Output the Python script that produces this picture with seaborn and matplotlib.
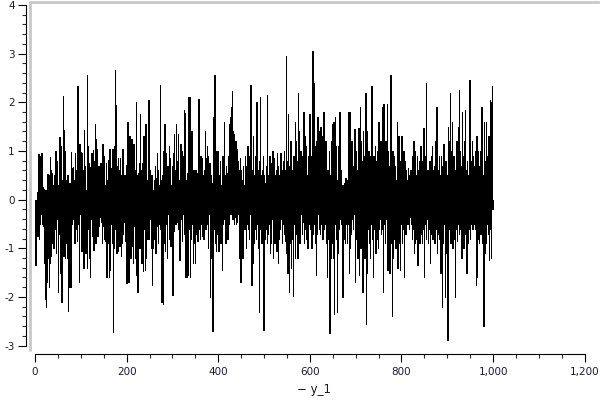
import numpy as np
import pandas as pd
import matplotlib
matplotlib.use("Agg")
import matplotlib.pyplot as plt
from matplotlib.ticker import MultipleLocator, FuncFormatter
import seaborn as sns

# values of y_1 in blocks of 100 points
block_0 = [0.0, -1.35, -0.45, -0.3, 0.15, -0.75, 0.92, -0.55, 0.94, -0.8,
           0.9, -0.5, 0.65, -0.3, 0.95, -0.5, 0.25, -0.55, 0.2, -0.45,
           0.22, -1.3, -2.05, 0.2, -2.2, 0.1, -1.7, 0.52, -1.2, 0.45,
           -1.8, 0.5, -1.3, 0.88, -1.15, 0.6, -0.05, 0.55, -0.9, 0.3,
           -1.0, 0.1, -0.85, 0.5, -0.6, 1.0, -1.1, 0.8, -0.4, 0.25,
           -1.9, 0.3, -0.7, 1.28, -1.5, 0.95, -0.65, 1.1, -2.1, 0.4,
           -1.15, 2.12, -0.2, 1.42, -1.15, 1.0, -1.2, 0.4, -0.9, 0.2,
           -1.2, 0.5, -2.28, 0.3, -1.8, 0.35, -0.55, 0.15, -1.8, 0.98,
           -0.5, 0.65, -0.4, 0.68, -0.3, 0.4, -0.9, 0.95, -0.6, 0.35,
           -0.55, 0.6, -0.85, 2.33, -0.5, 0.4, -1.7, 1.15, -0.3, 0.98]
block_1 = [-0.8, 0.45, -1.05, 0.95, -0.4, 0.6, -1.4, 1.42, -0.35, 0.7,
           -1.1, 0.2, -0.65, 2.57, -1.4, 1.1, -0.6, 0.75, -1.2, 0.68,
           -1.6, 0.3, -0.4, 0.96, -0.75, 0.5, -0.3, 1.02, -1.03, 0.8,
           -0.45, 1.55, -0.9, 1.25, -0.6, 1.05, -0.75, 0.5, -0.2, 0.7,
           -0.55, 0.2, -0.35, 0.75, -0.45, 0.6, -0.9, 1.15, -0.4, 0.8,
           -0.55, 0.9, -0.8, 0.3, -0.85, 0.75, -1.6, 0.4, -0.9, 0.82,
           -0.3, 0.5, -1.6, 1.05, -1.45, 0.6, -0.5, 0.65, -0.9, 1.05,
           -2.73, 0.65, -1.0, 1.1, -0.6, 2.67, -0.5, 1.95, -1.1, 0.7,
           -1.05, 0.85, -0.55, 0.6, -0.95, 0.85, -0.65, 0.3, -1.15, 0.5,
           -0.9, 1.05, -0.7, 0.3, -0.45, 0.5, -0.85, 0.45, -0.7, 0.72]
block_2 = [-1.72, 0.6, 1.6, -0.3, -1.7, 0.4, 1.3, -0.65, -1.2, 0.9,
           -0.4, 1.25, -0.95, 0.7, -1.3, 1.15, -0.55, 0.3, -1.2, 0.6,
           -0.9, 2.0, -1.55, 0.5, -1.9, 0.55, -0.4, 0.75, -1.0, 1.75,
           -0.9, 0.6, -1.3, 0.5, -0.4, 0.75, -1.47, 1.3, -0.6, 0.55,
           -1.45, 1.55, -1.2, 0.2, -0.6, 0.4, -0.8, 1.2, 2.05, -0.8,
           0.6, -0.4, 0.5, -1.0, 0.3, -1.75, 0.5, -1.0, 0.2, -0.6,
           0.4, -0.8, 0.7, -1.1, 0.45, -0.3, 0.95, -0.55, 0.6, -0.9,
           0.3, -0.5, 0.2, 2.35, -0.6, 0.4, -2.1, 0.5, -0.7, -2.15,
           1.0, -0.9, 0.55, 1.55, -1.05, 0.95, -0.5, 0.3, -1.2, 0.7,
           -0.3, 0.4, -0.8, 1.1, -0.6, 0.85, -0.95, 0.3, -0.5, -1.95]
block_3 = [0.7, -1.95, 0.95, -0.65, 1.35, -0.3, 0.6, -0.5, 1.55, -0.45,
           0.8, -0.35, 1.35, -0.6, 0.4, -1.25, 0.5, -0.85, 1.15, -0.4,
           1.0, -0.85, 0.6, -0.3, 0.9, 1.85, -0.7, 0.5, 1.78, -1.58,
           0.4, -1.6, 0.55, -1.55, 2.1, -0.6, 0.3, 2.1, -1.6, 0.5,
           -0.8, 0.6, 1.4, -0.5, 0.35, -1.3, 0.6, -0.9, 0.45, -1.3,
           0.6, -0.7, 0.3, -0.5, 0.55, -0.85, 0.4, 2.07, -0.6, 0.35,
           -0.8, 0.9, -0.5, 0.7, -0.75, 0.85, -0.3, 0.5, -0.8, 0.6,
           -0.4, 1.4, -0.6, 0.85, -0.35, 1.1, -0.5, 0.9, -1.0, 0.6,
           -0.3, 0.75, -2.0, 0.5, -1.2, 0.35, -0.8, -2.7, 0.4, 1.7,
           -0.6, 1.0, 2.55, -0.9, 1.0, -1.05, 0.6, -0.7, 1.0, -0.5]
block_4 = [0.9, -1.05, 0.5, -0.4, 0.8, -0.9, 0.3, -0.6, -1.45, 0.9,
           -0.5, 0.6, -0.3, 1.6, -0.4, 0.5, -0.9, 0.7, -0.6, 0.55,
           -0.8, 0.9, -0.5, 0.4, 1.55, -0.1, 1.7, -0.3, 1.9, -0.2,
           2.24, -0.4, 1.4, -0.3, 1.35, -0.5, 0.9, -0.35, 1.2, -0.5,
           1.05, -0.45, 0.8, -0.3, 0.6, -1.2, 0.5, -0.8, 0.85, -1.7,
           0.6, -0.9, 0.4, -1.2, 0.7, -0.5, 0.3, -0.6, 0.9, -0.45,
           0.5, -1.0, 0.7, -0.5, 1.1, -0.6, 0.4, -0.8, 0.9, -0.3,
           2.36, -0.7, 1.3, -1.75, 0.6, -1.3, 1.3, -0.9, 0.5, -0.4,
           0.9, -0.6, 0.7, -0.8, 2.0, -0.5, 0.6, -1.0, 0.4, -2.3,
           0.8, 2.1, -0.6, 0.5, -0.9, 0.3, -0.5, 0.6, 0.9, -2.67]
block_5 = [0.5, -0.8, 0.35, -0.6, 0.7, -0.4, 2.14, -0.9, 0.5, -0.7,
           0.4, -0.5, 0.9, -1.1, 0.6, -0.9, 0.75, -0.4, 1.0, -1.2,
           0.7, -0.6, 0.85, -0.9, 0.5, -0.3, 0.6, -1.05, 0.95, -0.5,
           0.7, -1.3, 0.5, -0.8, 0.4, -0.6, 0.95, -0.4, 0.6, -0.9,
           0.3, -0.5, 0.8, -0.7, 1.0, -0.4, 0.6, -0.85, 2.96, -1.1,
           0.8, -1.5, 1.75, -1.2, 0.5, -1.9, 0.7, -0.9, 1.2, -1.4,
           0.6, -0.8, 0.4, -1.98, 0.9, -0.5, 0.3, -1.2, 1.6, -0.7,
           1.2, -0.4, 0.8, -1.2, 2.2, -0.6, 1.4, -0.9, 0.7, -0.5,
           1.0, -0.3, 0.6, -0.7, 0.9, -0.45, 1.8, -0.9, 1.3, -0.6,
           0.8, -0.4, 1.1, -0.8, 0.5, -1.0, 0.9, -0.5, 0.6, 1.75]
block_6 = [-0.6, 0.9, -0.4, 0.5, -1.0, 1.2, 3.05, -0.7, 2.4, -0.5,
           1.1, -0.9, 0.6, -0.4, -1.55, 1.2, -0.7, 1.7, -0.3, 1.4,
           -0.6, 0.8, -0.7, 1.5, -0.5, 0.9, -0.35, 1.3, -0.8, 0.7,
           1.8, -0.6, 0.9, -0.5, 1.2, -0.9, 0.6, -1.6, 0.4, -0.8,
           0.6, -0.5, 1.0, -2.75, 0.5, -1.2, 1.2, -0.6, 1.55, -0.9,
           0.5, -1.2, 1.6, -2.35, 1.0, 1.7, -0.5, 1.1, -0.8, -2.3,
           0.4, -1.1, 1.1, -0.6, 1.8, -0.4, 1.8, -0.3, 0.6, -0.5,
           0.3, -2.0, 0.3, -0.8, 0.2, -0.6, 0.35, -0.9, 0.45, -0.5,
           0.3, -0.9, 0.4, -0.5, 1.8, -1.5, 0.8, 1.8, -1.0, 0.6,
           -0.7, 1.2, -0.4, 0.5, -0.6, 0.7, -0.3, 1.45, -1.7, 0.6]
block_7 = [-0.8, 1.0, -0.5, 0.6, -1.2, 0.9, 1.47, -1.55, 0.5, -0.9,
           1.9, -1.0, 1.2, -0.6, 0.8, -1.9, 1.4, -0.7, 0.9, -1.2,
           0.5, 2.2, -0.8, -2.55, 1.4, -1.5, 0.8, -0.6, 1.0, -0.9,
           0.6, -1.2, 0.9, -0.5, 0.7, 2.34, -0.8, 0.5, -1.6, 0.9,
           -0.6, 0.5, 1.1, -1.1, 0.8, -0.5, 1.0, -0.8, 0.6, -1.0,
           1.6, -0.6, 0.9, -0.4, 1.2, -0.7, 0.5, 1.9, -0.6, 1.3,
           -1.9, 1.97, -0.5, 0.8, -0.9, 1.2, -0.4, 0.6, 1.97, -1.45,
           1.0, -0.8, 0.7, -0.6, -1.5, 1.0, 2.56, -0.9, 0.5, -2.4,
           1.0, -1.2, 0.6, -0.8, 0.9, -0.5, 0.7, -1.0, 0.4, -0.6,
           1.6, -1.4, 1.0, -0.7, 1.3, -0.9, 0.8, -1.45, 0.6, -0.5]
block_8 = [1.3, -0.9, 0.7, -0.6, 1.0, -1.6, 0.5, -0.4, 0.8, -0.7,
           0.6, -0.3, 0.4, -0.5, 0.65, -0.4, 0.3, -0.6, 0.5, -0.35,
           0.6, -0.5, 0.4, -0.8, 0.9, -0.6, 1.2, -1.1, 0.7, -0.9,
           1.0, -0.6, 0.5, -0.8, 0.9, -1.35, 0.6, -0.5, 0.8, -0.9,
           0.6, -0.4, 1.1, -0.7, 0.5, -0.9, 0.8, -0.6, 1.47, -1.6,
           0.7, -0.5, 0.9, 2.4, -0.8, 0.6, -0.4, 0.3, -0.9, 0.6,
           -0.6, 0.8, -1.3, 0.5, -0.7, 0.9, -0.5, 1.1, -0.8, 0.6,
           -0.4, 0.7, -0.9, 1.2, -0.6, 0.5, 1.9, -1.1, 0.8, -0.7,
           0.6, -0.5, 0.9, -0.8, 0.5, -1.5, 0.9, -0.6, 0.4, -2.2,
           0.7, -0.9, 1.15, -0.5, 0.6, -2.0, 0.8, -1.1, 0.5, -0.6]
block_9 = [-2.88, 1.5, -1.1, 0.8, -0.6, 1.2, 2.2, -0.9, 1.0, -0.7,
           1.6, -1.0, 0.7, -0.5, 0.9, -0.8, 0.6, -2.0, 0.5, -0.6,
           1.2, -0.85, 0.8, -0.5, 1.5, -0.7, 2.25, -0.6, 1.0, -0.4,
           0.7, -1.2, 1.8, -0.8, 0.9, -1.0, 0.6, -0.5, 1.2, 1.85,
           -0.7, 0.6, -1.5, 0.8, -0.9, 0.5, -0.6, 0.7, 2.45, -0.8,
           0.6, -0.5, 0.8, -0.4, 1.2, -0.6, 0.9, -0.5, 0.7, -0.3,
           1.0, -0.6, 0.5, -1.75, 1.3, -1.6, 1.0, -0.8, 0.7, -0.9,
           0.6, -0.5, 1.0, -0.7, 0.8, 1.9, -0.9, 0.5, -0.6, -2.6,
           1.6, -1.1, 0.8, -0.6, 1.6, -0.9, 0.7, -0.5, 0.9, -0.7,
           1.3, -1.25, 0.8, 2.05, -0.6, 2.0, -1.2, 0.9, 2.34, -0.2]

y_1 = (block_0 + block_1 + block_2 + block_3 + block_4
       + block_5 + block_6 + block_7 + block_8 + block_9)
df = pd.DataFrame({"index": np.arange(len(y_1)), "y_1": y_1})

sns.set_style("white")
plt.rcParams["font.family"] = ["DejaVu Sans"]
plt.rcParams["axes.unicode_minus"] = False

fig = plt.figure(figsize=(6, 4), dpi=100)
ax = fig.add_axes([30 / 600, 50 / 400, 568 / 600, 348 / 400])

sns.barplot(data=df, x="index", y="y_1", native_scale=True, width=1,
            color="black", edgecolor="black", linewidth=0.4,
            antialiased=False, errorbar=None, ax=ax)

ax.set_xlim(-10.9, 1229)
ax.set_ylim(-3.09, 4.06)

# axes drawn outside the plot area, like the original
ax.spines["left"].set_position(("outward", 3))
ax.spines["left"].set_bounds(-3, 4)
ax.spines["bottom"].set_position(("outward", 3))
ax.spines["bottom"].set_bounds(0, 1200)
ax.spines["right"].set_visible(False)
ax.spines["top"].set_color("#c8c8c8")
ax.spines["top"].set_linewidth(2)
for side in ["left", "bottom"]:
    ax.spines[side].set_color("black")
    ax.spines[side].set_linewidth(0.8)
ax.plot([0, 0], [0, 1], transform=ax.transAxes, color="#c8c8c8",
        lw=2, clip_on=False)

ax.yaxis.set_major_locator(MultipleLocator(1))
ax.yaxis.set_minor_locator(MultipleLocator(0.2))
ax.xaxis.set_major_locator(MultipleLocator(200))
ax.xaxis.set_minor_locator(MultipleLocator(50))
ax.xaxis.set_major_formatter(FuncFormatter(lambda v, p: f"{int(v):,}"))
ax.yaxis.set_major_formatter(FuncFormatter(lambda v, p: f"{int(v)}"))
ax.tick_params(axis="both", which="major", direction="out", length=6,
               width=0.8, labelsize=7.5, colors="black", labelcolor="#1a1a33",
               left=True, bottom=True)
ax.tick_params(axis="both", which="minor", direction="out", length=3,
               width=0.8, left=True, bottom=True)
ax.tick_params(axis="y", which="major", pad=2)

ax.set_xlabel("\u2212 y_1", fontsize=8.5, color="#1a1a33", labelpad=4)
ax.set_ylabel("")

fig.savefig("out.png", dpi=100)
